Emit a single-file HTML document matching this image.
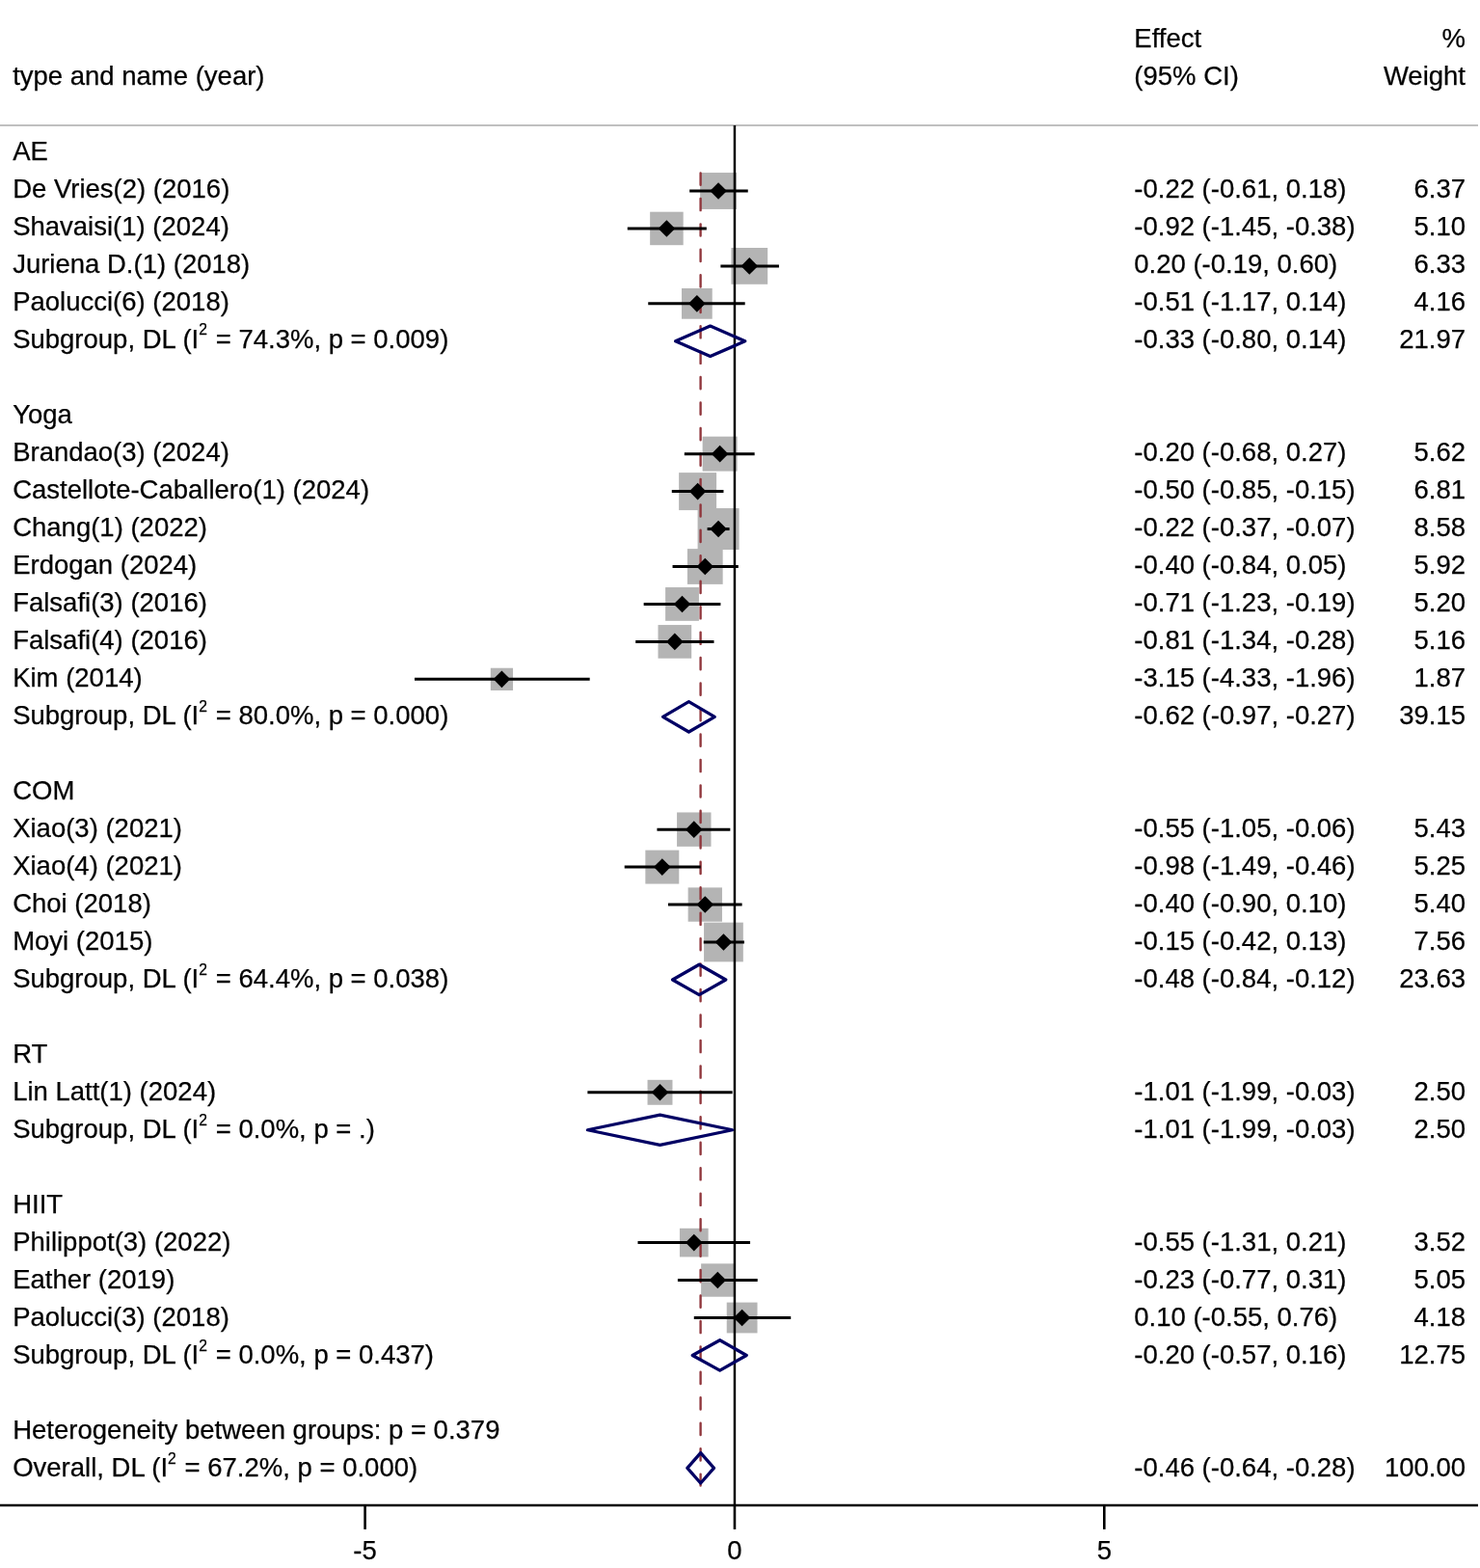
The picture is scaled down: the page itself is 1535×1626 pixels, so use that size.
<!DOCTYPE html>
<html lang="en">
<head>
<meta charset="utf-8">
<title>Forest plot</title>
<style>
html,body{margin:0;padding:0;background:#fff;}
body{width:1535px;height:1626px;overflow:hidden;}
svg{display:block;}
text{font-family:"Liberation Sans",Arial,Helvetica,sans-serif;font-size:27.5px;fill:#000;stroke:#000;stroke-width:0.25px;}
.r{text-anchor:end;}
.c{text-anchor:middle;}
.sup{font-size:15.67px;}
</style>
</head>
<body>
<svg width="1535" height="1626" viewBox="0 0 1535 1626">
<rect x="0" y="0" width="1535" height="1626" fill="#ffffff"/>
<line x1="0" y1="130" x2="1533" y2="130" stroke="#c0c0c0" stroke-width="2"/>
<rect x="726.14" y="179.06" width="37.88" height="37.88" fill="#b4b4b4"/>
<rect x="674.16" y="219.69" width="34.51" height="34.51" fill="#b4b4b4"/>
<rect x="758.4" y="257.01" width="37.78" height="37.78" fill="#b4b4b4"/>
<rect x="706.98" y="298.98" width="31.74" height="31.74" fill="#b4b4b4"/>
<rect x="728.65" y="452.68" width="35.94" height="35.94" fill="#b4b4b4"/>
<rect x="704.13" y="490.12" width="38.96" height="38.96" fill="#b4b4b4"/>
<rect x="723.58" y="527.04" width="43.01" height="43.01" fill="#b4b4b4"/>
<rect x="712.92" y="569.14" width="36.73" height="36.73" fill="#b4b4b4"/>
<rect x="690.12" y="609.05" width="34.79" height="34.79" fill="#b4b4b4"/>
<rect x="682.51" y="648.06" width="34.68" height="34.68" fill="#b4b4b4"/>
<rect x="508.83" y="692.74" width="23.23" height="23.23" fill="#b4b4b4"/>
<rect x="702.07" y="842.44" width="35.42" height="35.42" fill="#b4b4b4"/>
<rect x="669.35" y="881.63" width="34.93" height="34.93" fill="#b4b4b4"/>
<rect x="713.61" y="920.38" width="35.34" height="35.34" fill="#b4b4b4"/>
<rect x="730.08" y="956.63" width="40.74" height="40.74" fill="#b4b4b4"/>
<rect x="671.55" y="1119.83" width="25.93" height="25.93" fill="#b4b4b4"/>
<rect x="704.95" y="1273.76" width="29.67" height="29.67" fill="#b4b4b4"/>
<rect x="727.13" y="1310.36" width="34.37" height="34.37" fill="#b4b4b4"/>
<rect x="753.72" y="1350.6" width="31.8" height="31.8" fill="#b4b4b4"/>
<line x1="726.6" y1="179.4" x2="726.6" y2="1540.6" stroke="#90353b" stroke-width="2.35" stroke-dasharray="12.3,14.155" stroke-linecap="round"/>
<line x1="761.95" y1="130" x2="761.95" y2="1561.1" stroke="#000" stroke-width="2.45"/>
<line x1="715.18" y1="198" x2="775.75" y2="198" stroke="#000" stroke-width="3"/>
<line x1="650.78" y1="236.95" x2="732.82" y2="236.95" stroke="#000" stroke-width="3"/>
<line x1="747.38" y1="275.9" x2="807.95" y2="275.9" stroke="#000" stroke-width="3"/>
<line x1="672.25" y1="314.85" x2="772.68" y2="314.85" stroke="#000" stroke-width="3"/>
<line x1="709.81" y1="470.65" x2="782.65" y2="470.65" stroke="#000" stroke-width="3"/>
<line x1="696.78" y1="509.6" x2="750.45" y2="509.6" stroke="#000" stroke-width="3"/>
<line x1="733.58" y1="548.55" x2="756.58" y2="548.55" stroke="#000" stroke-width="3"/>
<line x1="697.55" y1="587.5" x2="765.78" y2="587.5" stroke="#000" stroke-width="3"/>
<line x1="667.65" y1="626.45" x2="747.38" y2="626.45" stroke="#000" stroke-width="3"/>
<line x1="659.21" y1="665.4" x2="740.48" y2="665.4" stroke="#000" stroke-width="3"/>
<line x1="429.97" y1="704.35" x2="611.68" y2="704.35" stroke="#000" stroke-width="3"/>
<line x1="681.45" y1="860.15" x2="757.35" y2="860.15" stroke="#000" stroke-width="3"/>
<line x1="647.71" y1="899.1" x2="726.68" y2="899.1" stroke="#000" stroke-width="3"/>
<line x1="692.95" y1="938.05" x2="769.62" y2="938.05" stroke="#000" stroke-width="3"/>
<line x1="729.75" y1="977" x2="771.92" y2="977" stroke="#000" stroke-width="3"/>
<line x1="609.38" y1="1132.8" x2="759.65" y2="1132.8" stroke="#000" stroke-width="3"/>
<line x1="661.51" y1="1288.6" x2="778.05" y2="1288.6" stroke="#000" stroke-width="3"/>
<line x1="702.91" y1="1327.55" x2="785.72" y2="1327.55" stroke="#000" stroke-width="3"/>
<line x1="719.78" y1="1366.5" x2="820.22" y2="1366.5" stroke="#000" stroke-width="3"/>
<polygon points="736.28,198 745.08,189.2 753.88,198 745.08,206.8" fill="#000"/>
<polygon points="682.61,236.95 691.41,228.15 700.21,236.95 691.41,245.75" fill="#000"/>
<polygon points="768.48,275.9 777.28,267.1 786.08,275.9 777.28,284.7" fill="#000"/>
<polygon points="714.05,314.85 722.85,306.05 731.65,314.85 722.85,323.65" fill="#000"/>
<polygon points="737.82,470.65 746.62,461.85 755.42,470.65 746.62,479.45" fill="#000"/>
<polygon points="714.82,509.6 723.62,500.8 732.41,509.6 723.62,518.4" fill="#000"/>
<polygon points="736.28,548.55 745.08,539.75 753.88,548.55 745.08,557.35" fill="#000"/>
<polygon points="722.48,587.5 731.28,578.7 740.08,587.5 731.28,596.3" fill="#000"/>
<polygon points="698.71,626.45 707.51,617.65 716.31,626.45 707.51,635.25" fill="#000"/>
<polygon points="691.05,665.4 699.85,656.6 708.65,665.4 699.85,674.2" fill="#000"/>
<polygon points="511.64,704.35 520.44,695.55 529.24,704.35 520.44,713.15" fill="#000"/>
<polygon points="710.98,860.15 719.78,851.35 728.58,860.15 719.78,868.95" fill="#000"/>
<polygon points="678.01,899.1 686.81,890.3 695.61,899.1 686.81,907.9" fill="#000"/>
<polygon points="722.48,938.05 731.28,929.25 740.08,938.05 731.28,946.85" fill="#000"/>
<polygon points="741.65,977 750.45,968.2 759.25,977 750.45,985.8" fill="#000"/>
<polygon points="675.71,1132.8 684.51,1124 693.31,1132.8 684.51,1141.6" fill="#000"/>
<polygon points="710.98,1288.6 719.78,1279.8 728.58,1288.6 719.78,1297.4" fill="#000"/>
<polygon points="735.52,1327.55 744.32,1318.75 753.12,1327.55 744.32,1336.35" fill="#000"/>
<polygon points="760.82,1366.5 769.62,1357.7 778.42,1366.5 769.62,1375.3" fill="#000"/>
<polygon points="700.61,353.8 736.65,338.1 772.68,353.8 736.65,369.5" fill="none" stroke="#000064" stroke-width="3.3" stroke-linejoin="round"/>
<polygon points="687.58,743.3 714.41,727.6 741.25,743.3 714.41,759" fill="none" stroke="#000064" stroke-width="3.3" stroke-linejoin="round"/>
<polygon points="697.55,1015.95 725.15,1000.25 752.75,1015.95 725.15,1031.65" fill="none" stroke="#000064" stroke-width="3.3" stroke-linejoin="round"/>
<polygon points="609.38,1171.75 684.51,1156.05 759.65,1171.75 684.51,1187.45" fill="none" stroke="#000064" stroke-width="3.3" stroke-linejoin="round"/>
<polygon points="718.25,1405.45 746.62,1389.75 774.22,1405.45 746.62,1421.15" fill="none" stroke="#000064" stroke-width="3.3" stroke-linejoin="round"/>
<polygon points="712.88,1522.3 726.68,1506.6 740.48,1522.3 726.68,1538" fill="none" stroke="#000064" stroke-width="3.3" stroke-linejoin="round"/>
<line x1="0" y1="1561.1" x2="1533" y2="1561.1" stroke="#000" stroke-width="2.5"/>
<line x1="378.6" y1="1561.1" x2="378.6" y2="1585.9" stroke="#000" stroke-width="2.6"/>
<text x="378.6" y="1617.1" class="c">-5</text>
<line x1="761.95" y1="1561.1" x2="761.95" y2="1585.9" stroke="#000" stroke-width="2.6"/>
<text x="761.95" y="1617.1" class="c">0</text>
<line x1="1145.3" y1="1561.1" x2="1145.3" y2="1585.9" stroke="#000" stroke-width="2.6"/>
<text x="1145.3" y="1617.1" class="c">5</text>
<text x="13.15" y="87.98">type and name (year)</text>
<text x="1176.3" y="48.97">Effect</text>
<text x="1176.3" y="87.98">(95% CI)</text>
<text x="1520" y="48.97" class="r">%</text>
<text x="1520" y="87.98" class="r">Weight</text>
<text x="13.15" y="166">AE</text>
<text x="13.15" y="205.01">De Vries(2) (2016)</text>
<text x="1176.3" y="205.01">-0.22 (-0.61, 0.18)</text>
<text x="1520" y="205.01" class="r">6.37</text>
<text x="13.15" y="244.02">Shavaisi(1) (2024)</text>
<text x="1176.3" y="244.02">-0.92 (-1.45, -0.38)</text>
<text x="1520" y="244.02" class="r">5.10</text>
<text x="13.15" y="283.03">Juriena D.(1) (2018)</text>
<text x="1176.3" y="283.03">0.20 (-0.19, 0.60)</text>
<text x="1520" y="283.03" class="r">6.33</text>
<text x="13.15" y="322.04">Paolucci(6) (2018)</text>
<text x="1176.3" y="322.04">-0.51 (-1.17, 0.14)</text>
<text x="1520" y="322.04" class="r">4.16</text>
<text x="13.15" y="361.05">Subgroup, DL (I<tspan class="sup" dy="-13.61">2</tspan><tspan dx="1.1" dy="13.61"> = 74.3%, p = 0.009)</tspan></text>
<text x="1176.3" y="361.05">-0.33 (-0.80, 0.14)</text>
<text x="1520" y="361.05" class="r">21.97</text>
<text x="13.15" y="439.07">Yoga</text>
<text x="13.15" y="478.08">Brandao(3) (2024)</text>
<text x="1176.3" y="478.08">-0.20 (-0.68, 0.27)</text>
<text x="1520" y="478.08" class="r">5.62</text>
<text x="13.15" y="517.09">Castellote-Caballero(1) (2024)</text>
<text x="1176.3" y="517.09">-0.50 (-0.85, -0.15)</text>
<text x="1520" y="517.09" class="r">6.81</text>
<text x="13.15" y="556.1">Chang(1) (2022)</text>
<text x="1176.3" y="556.1">-0.22 (-0.37, -0.07)</text>
<text x="1520" y="556.1" class="r">8.58</text>
<text x="13.15" y="595.11">Erdogan (2024)</text>
<text x="1176.3" y="595.11">-0.40 (-0.84, 0.05)</text>
<text x="1520" y="595.11" class="r">5.92</text>
<text x="13.15" y="634.12">Falsafi(3) (2016)</text>
<text x="1176.3" y="634.12">-0.71 (-1.23, -0.19)</text>
<text x="1520" y="634.12" class="r">5.20</text>
<text x="13.15" y="673.13">Falsafi(4) (2016)</text>
<text x="1176.3" y="673.13">-0.81 (-1.34, -0.28)</text>
<text x="1520" y="673.13" class="r">5.16</text>
<text x="13.15" y="712.14">Kim (2014)</text>
<text x="1176.3" y="712.14">-3.15 (-4.33, -1.96)</text>
<text x="1520" y="712.14" class="r">1.87</text>
<text x="13.15" y="751.15">Subgroup, DL (I<tspan class="sup" dy="-13.61">2</tspan><tspan dx="1.1" dy="13.61"> = 80.0%, p = 0.000)</tspan></text>
<text x="1176.3" y="751.15">-0.62 (-0.97, -0.27)</text>
<text x="1520" y="751.15" class="r">39.15</text>
<text x="13.15" y="829.17">COM</text>
<text x="13.15" y="868.18">Xiao(3) (2021)</text>
<text x="1176.3" y="868.18">-0.55 (-1.05, -0.06)</text>
<text x="1520" y="868.18" class="r">5.43</text>
<text x="13.15" y="907.19">Xiao(4) (2021)</text>
<text x="1176.3" y="907.19">-0.98 (-1.49, -0.46)</text>
<text x="1520" y="907.19" class="r">5.25</text>
<text x="13.15" y="946.2">Choi (2018)</text>
<text x="1176.3" y="946.2">-0.40 (-0.90, 0.10)</text>
<text x="1520" y="946.2" class="r">5.40</text>
<text x="13.15" y="985.21">Moyi (2015)</text>
<text x="1176.3" y="985.21">-0.15 (-0.42, 0.13)</text>
<text x="1520" y="985.21" class="r">7.56</text>
<text x="13.15" y="1024.22">Subgroup, DL (I<tspan class="sup" dy="-13.61">2</tspan><tspan dx="1.1" dy="13.61"> = 64.4%, p = 0.038)</tspan></text>
<text x="1176.3" y="1024.22">-0.48 (-0.84, -0.12)</text>
<text x="1520" y="1024.22" class="r">23.63</text>
<text x="13.15" y="1102.24">RT</text>
<text x="13.15" y="1141.25">Lin Latt(1) (2024)</text>
<text x="1176.3" y="1141.25">-1.01 (-1.99, -0.03)</text>
<text x="1520" y="1141.25" class="r">2.50</text>
<text x="13.15" y="1180.26">Subgroup, DL (I<tspan class="sup" dy="-13.61">2</tspan><tspan dx="1.1" dy="13.61"> = 0.0%, p = .)</tspan></text>
<text x="1176.3" y="1180.26">-1.01 (-1.99, -0.03)</text>
<text x="1520" y="1180.26" class="r">2.50</text>
<text x="13.15" y="1258.28">HIIT</text>
<text x="13.15" y="1297.29">Philippot(3) (2022)</text>
<text x="1176.3" y="1297.29">-0.55 (-1.31, 0.21)</text>
<text x="1520" y="1297.29" class="r">3.52</text>
<text x="13.15" y="1336.3">Eather (2019)</text>
<text x="1176.3" y="1336.3">-0.23 (-0.77, 0.31)</text>
<text x="1520" y="1336.3" class="r">5.05</text>
<text x="13.15" y="1375.31">Paolucci(3) (2018)</text>
<text x="1176.3" y="1375.31">0.10 (-0.55, 0.76)</text>
<text x="1520" y="1375.31" class="r">4.18</text>
<text x="13.15" y="1414.32">Subgroup, DL (I<tspan class="sup" dy="-13.61">2</tspan><tspan dx="1.1" dy="13.61"> = 0.0%, p = 0.437)</tspan></text>
<text x="1176.3" y="1414.32">-0.20 (-0.57, 0.16)</text>
<text x="1520" y="1414.32" class="r">12.75</text>
<text x="13.15" y="1492.34">Heterogeneity between groups: p = 0.379</text>
<text x="13.15" y="1531.35">Overall, DL (I<tspan class="sup" dy="-13.61">2</tspan><tspan dx="1.1" dy="13.61"> = 67.2%, p = 0.000)</tspan></text>
<text x="1176.3" y="1531.35">-0.46 (-0.64, -0.28)</text>
<text x="1520" y="1531.35" class="r">100.00</text>
</svg>
</body>
</html>
